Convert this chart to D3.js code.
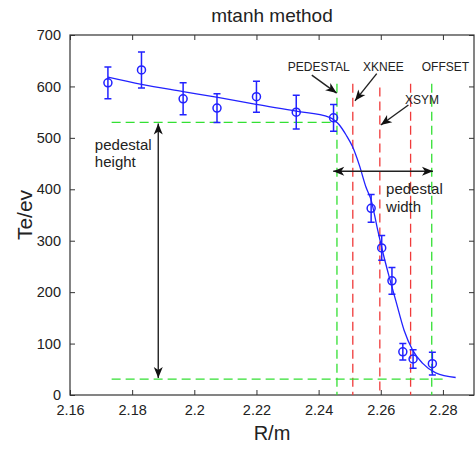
<!DOCTYPE html>
<html>
<head>
<meta charset="utf-8">
<script src="https://cdn.jsdelivr.net/npm/d3@7"></script>
<style>
  body { margin: 0; background: #fff; }
  text { font-family: Arial, "Liberation Sans", sans-serif; fill: #222; }
</style>
</head>
<body>
<svg id="chart" width="475" height="450"></svg>
<script>
// measured points (R in m, Te in eV) with error half-widths
const radius = [2.1722, 2.1830, 2.1964, 2.2073, 2.2200, 2.2328, 2.2448, 2.2569, 2.2603, 2.2636, 2.2671, 2.2704, 2.2766];
const te     = [607, 632, 576, 558, 580, 550, 539, 363, 286, 222, 84, 70, 61];
const teErr  = [31, 35, 31, 28, 30, 33, 26, 27, 24, 26, 16, 18, 22];

// mtanh fit
const fitR  = [2.1722, 2.1830, 2.1964, 2.2071, 2.2199, 2.2328, 2.2435, 2.2467, 2.2488, 2.2509, 2.2531, 2.2552,
               2.2569, 2.2590, 2.2606, 2.2627, 2.2649, 2.2675, 2.2702, 2.2734, 2.2777, 2.2841];
const fitTe = [618, 604, 590, 579, 565, 552, 540, 525, 506, 483, 447, 405,
               379, 321, 279, 230, 182, 126, 88, 62, 43, 34];

// vertical markers
const greenLines = [2.2459, 2.2764];
const redLines = [2.2510, 2.2597, 2.2696];
const lineTop = 605;
const pedTop = 530, pedBottom = 31;

const xTicks = [2.16, 2.18, 2.2, 2.22, 2.24, 2.26, 2.28];
const xTickLabels = ["2.16", "2.18", "2.2", "2.22", "2.24", "2.26", "2.28"];
const yTicks = [0, 100, 200, 300, 400, 500, 600, 700];

const svg = d3.select("#chart");
const x = d3.scaleLinear().domain([2.16, 2.29]).range([70, 474]);
const y = d3.scaleLinear().domain([0, 700]).range([395, 35]);

const defs = svg.append("defs");
defs.append("marker")
  .attr("id", "head")
  .attr("viewBox", "-12 -6 14 12")
  .attr("markerWidth", 14).attr("markerHeight", 12)
  .attr("markerUnits", "userSpaceOnUse")
  .attr("orient", "auto-start-reverse")
  .append("path")
  .attr("d", "M0,0 L-11,-4.5 L-8,0 L-11,4.5 Z")
  .attr("fill", "#111");

// axes box
const frame = svg.append("g");
frame.append("rect")
  .attr("x", x(2.16)).attr("y", y(700))
  .attr("width", x(2.29) - x(2.16)).attr("height", y(0) - y(700))
  .attr("fill", "none").attr("stroke", "#333").attr("stroke-width", 1.2);

frame.append("g").attr("transform", `translate(0,${y(0)})`)
  .call(d3.axisBottom(x).tickValues(xTicks).tickSize(-5).tickPadding(10)
    .tickFormat((d, i) => xTickLabels[i]))
  .call(g => g.select(".domain").remove())
  .call(g => g.selectAll("line").attr("stroke", "#333"))
  .call(g => g.selectAll("text").attr("font-size", 14.5).style("font-family", "Arial, 'Liberation Sans'").attr("fill", "#222"));

frame.append("g").attr("transform", `translate(0,${y(700)})`)
  .call(d3.axisTop(x).tickValues(xTicks).tickSize(-5).tickFormat(""))
  .call(g => g.select(".domain").remove())
  .call(g => g.selectAll("line").attr("stroke", "#333"));

frame.append("g").attr("transform", `translate(${x(2.16)},0)`)
  .call(d3.axisLeft(y).tickValues(yTicks).tickSize(-5).tickPadding(9))
  .call(g => g.select(".domain").remove())
  .call(g => g.selectAll("line").attr("stroke", "#333"))
  .call(g => g.selectAll("text").attr("font-size", 14.5).style("font-family", "Arial, 'Liberation Sans'").attr("fill", "#222"));

frame.append("g").attr("transform", `translate(${x(2.29)},0)`)
  .call(d3.axisRight(y).tickValues(yTicks).tickSize(-5).tickFormat(""))
  .call(g => g.select(".domain").remove())
  .call(g => g.selectAll("line").attr("stroke", "#333"));

// dashed guide lines
const guides = svg.append("g").attr("stroke-dasharray", "9,5").attr("stroke-width", 1.3);
guides.selectAll(".gv").data(greenLines).enter().append("line")
  .attr("x1", d => x(d)).attr("x2", d => x(d))
  .attr("y1", y(lineTop)).attr("y2", y(0))
  .attr("stroke", "#33e033");
guides.selectAll(".rv").data(redLines).enter().append("line")
  .attr("x1", d => x(d)).attr("x2", d => x(d))
  .attr("y1", (d, i) => i === 1 ? y(lineTop - 7) : y(lineTop)).attr("y2", y(0))
  .attr("stroke", "#f03a3a");
guides.append("line")
  .attr("x1", x(2.1734)).attr("x2", x(greenLines[0]))
  .attr("y1", y(pedTop)).attr("y2", y(pedTop))
  .attr("stroke", "#33e033");
guides.append("line")
  .attr("x1", x(2.1734)).attr("x2", x(2.2809))
  .attr("y1", y(pedBottom)).attr("y2", y(pedBottom))
  .attr("stroke", "#33e033");

// fit curve
svg.append("path")
  .datum(fitR.map((r, i) => [r, fitTe[i]]))
  .attr("fill", "none").attr("stroke", "#2222ff").attr("stroke-width", 1.3)
  .attr("d", d3.line().x(d => x(d[0])).y(d => y(d[1])).curve(d3.curveMonotoneX));

// data points with error bars
const pts = svg.append("g").attr("stroke", "#2222ff").attr("stroke-width", 1.5).attr("fill", "none");
const pd = radius.map((r, i) => ({ r, t: te[i], e: teErr[i] }));
pts.selectAll(".eb").data(pd).enter().append("path")
  .attr("d", d => {
    const cx = x(d.r), y1 = y(d.t + d.e), y2 = y(d.t - d.e);
    return `M${cx},${y1}V${y2}M${cx - 3.5},${y1}H${cx + 3.5}M${cx - 3.5},${y2}H${cx + 3.5}`;
  });
pts.selectAll("circle").data(pd).enter().append("circle")
  .attr("cx", d => x(d.r)).attr("cy", d => y(d.t)).attr("r", 4);

// annotation arrows
const arrows = svg.append("g").attr("stroke", "#222").attr("stroke-width", 1.4).attr("fill", "none");
arrows.append("line")
  .attr("x1", x(2.1884)).attr("x2", x(2.1884))
  .attr("y1", y(pedTop) + 1).attr("y2", y(pedBottom) - 1)
  .attr("marker-start", "url(#head)").attr("marker-end", "url(#head)");
arrows.append("line")
  .attr("x1", x(2.2447)).attr("x2", x(2.2768))
  .attr("y1", y(435)).attr("y2", y(435))
  .attr("marker-start", "url(#head)").attr("marker-end", "url(#head)");
const pointers = [
  { from: [2.2378, 622], to: [2.2458, 587] },
  { from: [2.2587, 625], to: [2.2517, 572] },
  { from: [2.2689, 564], to: [2.2600, 525] }
];
arrows.selectAll(".ptr").data(pointers).enter().append("line")
  .attr("x1", d => x(d.from[0])).attr("y1", d => y(d.from[1]))
  .attr("x2", d => x(d.to[0])).attr("y2", d => y(d.to[1]))
  .attr("marker-end", "url(#head)");

// labels
const labels = [
  { t: "PEDESTAL", r: 2.2301, v: 630 },
  { t: "XKNEE", r: 2.2543, v: 630 },
  { t: "OFFSET", r: 2.2732, v: 630 },
  { t: "XSYM", r: 2.2678, v: 566 }
];
svg.selectAll(".lbl").data(labels).enter().append("text")
  .attr("x", d => x(d.r)).attr("y", d => y(d.v))
  .attr("font-size", 12).text(d => d.t);

svg.append("text").attr("x", x(2.1680)).attr("y", y(476)).attr("font-size", 15).text("pedestal");
svg.append("text").attr("x", x(2.1680)).attr("y", y(443)).attr("font-size", 15).text("height");
svg.append("text").attr("x", x(2.2617)).attr("y", y(391)).attr("font-size", 15).text("pedestal");
svg.append("text").attr("x", x(2.2617)).attr("y", y(355)).attr("font-size", 15).text("width");

// titles
svg.append("text").attr("x", (x(2.16) + x(2.29)) / 2).attr("y", 22)
  .attr("text-anchor", "middle").attr("font-size", 19).text("mtanh method");
svg.append("text").attr("x", (x(2.16) + x(2.29)) / 2).attr("y", 440)
  .attr("text-anchor", "middle").attr("font-size", 20).text("R/m");
svg.append("text").attr("transform", `translate(32,${(y(0) + y(700)) / 2}) rotate(-90)`)
  .attr("text-anchor", "middle").attr("font-size", 21).text("Te/ev");
</script>
</body>
</html>
